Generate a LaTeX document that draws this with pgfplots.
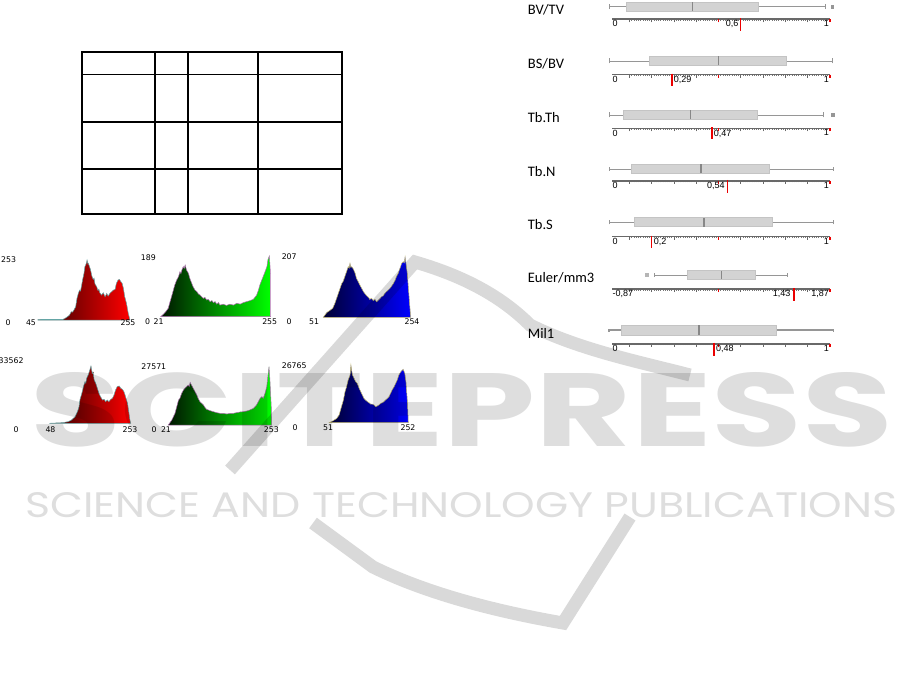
\documentclass[border=0pt]{standalone}
\usepackage{pgfplots}
\pgfplotsset{compat=1.18}
\usepgfplotslibrary{statistics}
\usepackage{graphicx}
\usepackage{fontspec}
\setmainfont{DejaVu Sans}
\newfontfamily\lblfont{Carlito}
\newfontfamily\rulfont{Liberation Sans}
\newfontfamily\wmfont{Poppins}

\definecolor{boxfill}{RGB}{211,211,211}
\definecolor{boxedge}{RGB}{196,196,196}
\definecolor{whisk}{RGB}{150,150,150}
\definecolor{med}{RGB}{135,135,135}
\definecolor{rul}{RGB}{105,105,105}
\definecolor{minortick}{RGB}{120,120,120}
\definecolor{valred}{RGB}{235,0,0}
\definecolor{redout}{RGB}{100,165,165}
\definecolor{greenout}{RGB}{175,110,175}
\definecolor{blueout}{RGB}{190,180,110}

\pgfplotsset{
  hist/.style={hide axis, scale only axis, anchor=south west, ymin=0,
    enlargelimits=false, clip=false},
  ruler/.style={scale only axis, anchor=south west, width=217.7pt, height=20pt,
    xmin=0.0216, xmax=1, ymin=0, ymax=20, enlargelimits=false, clip=false,
    axis x line*=bottom, axis y line=none, ytick=\empty,
    x axis line style={draw=rul, line width=1.6pt},
    xtick={0.1,0.2,0.3,0.4,0.5,0.6,0.7,0.8,0.9,1},
    xticklabels={}, minor x tick num=9, tick align=outside,
    major tick length=3pt, minor tick length=1.5pt,
    every major tick/.style={draw=rul, line width=0.8pt},
    every minor tick/.style={draw=minortick, line width=0.5pt},
    boxplot/draw direction=x,
    boxplot/every box/.style={fill=boxfill, draw=boxedge, line width=0.8pt},
    boxplot/every median/.style={draw=med, line width=1pt},
    boxplot/every whisker/.style={draw=whisk, line width=0.9pt}},
  redmark/.style={color=valred, draw=valred, line width=1.6pt, mark=none, forget plot},
  outlier/.style={only marks, mark=square*, mark size=1.3pt, color=whisk, forget plot},
  thickmedian/.style={boxplot/every median/.style={draw=med, line width=1.8pt}}
}

\newcommand{\hl}[1]{{\fontsize{7.8}{9}\selectfont #1}}
\newcommand{\rl}[1]{{\rulfont\fontsize{9}{10}\selectfont #1}}
\newcommand{\rowname}[1]{{\lblfont\fontsize{14.5}{16}\selectfont #1}}

\begin{document}
\begin{tikzpicture}[x=1pt,y=1pt]
\path[use as bounding box] (0,0) rectangle (914,-690);

% ---- empty table grid ----
\draw[line width=2pt] (81.7,-52.3) rectangle (342,-214.3);
\foreach \xx in {155,187.7,258} \draw[line width=2pt] (\xx,-52.3) -- (\xx,-214.3);
\draw[line width=1pt] (81.7,-75) -- (342,-75);
\foreach \yy in {121.7,168.7} \draw[line width=2pt] (81.7,-\yy) -- (342,-\yy);

% ---- histograms, top row ----
\begin{axis}[hist, at={(38pt,-320pt)}, width=92pt, height=60pt, xmin=45, xmax=255, ymax=253]
\addplot[draw=redout, line width=0.5pt, left color={rgb,255:red,45;green,0;blue,0}, right color={rgb,255:red,255;green,0;blue,0}]
coordinates {(45,2)(102,3)(106,6)(110,11)(114,16)(117,21)(121,35)(124,33)(127,42)(131,56)(134,91)(137,112)(140,126)(142,122)(144,140)(147,171)(150,197)(152,225)(154,232)(156,244)(157,253)(159,236)(160,239)(162,228)(165,211)(168,185)(171,171)(173,176)(175,152)(179,140)(182,124)(184,130)(186,115)(190,105)(194,115)(198,98)(202,112)(205,101)(209,112)(213,119)(217,126)(221,129)(224,155)(228,169)(231,171)(234,162)(237,155)(240,133)(243,98)(247,70)(251,28)(255,0)} \closedcycle;
\end{axis}
\begin{axis}[hist, at={(160.7pt,-316.7pt)}, width=110pt, height=60.7pt, xmin=21, xmax=255, ymax=189]
\addplot[draw=greenout, line width=0.5pt, left color={rgb,255:red,0;green,21;blue,0}, right color={rgb,255:red,0;green,255;blue,0}]
coordinates {(21,0)(27,8)(32,16)(37,26)(41,47)(44,62)(48,83)(51,99)(55,114)(59,125)(62,140)(64,134)(66,145)(69,156)(71,150)(73,161)(76,145)(80,135)(83,119)(87,104)(90,93)(94,83)(98,78)(101,71)(105,67)(108,62)(112,57)(115,60)(119,52)(122,54)(126,47)(130,50)(133,44)(137,47)(140,39)(144,44)(147,36)(154,39)(161,35)(168,39)(176,36)(183,42)(190,39)(197,44)(204,47)(211,50)(218,54)(225,67)(229,83)(232,99)(236,114)(239,125)(243,140)(247,156)(249,177)(252,189)(254,150)(255,125)} \closedcycle;
\end{axis}
\begin{axis}[hist, at={(323.3pt,-317.3pt)}, width=87.4pt, height=60.6pt, xmin=51, xmax=254, ymax=207]
\addplot[draw=blueout, line width=0.5pt, left color={rgb,255:red,0;green,0;blue,51}, right color={rgb,255:red,0;green,0;blue,255}]
coordinates {(51,0)(55,8)(59,16)(66,23)(73,31)(78,48)(82,65)(86,82)(90,99)(94,116)(97,122)(101,139)(105,156)(109,173)(111,168)(113,184)(115,170)(117,173)(121,164)(125,150)(128,133)(132,122)(136,110)(140,99)(144,88)(148,80)(152,73)(156,68)(159,61)(163,65)(167,57)(171,61)(175,53)(179,59)(183,65)(187,71)(190,73)(194,82)(198,88)(202,93)(206,99)(210,107)(214,116)(218,127)(221,139)(225,150)(229,167)(233,184)(237,190)(239,186)(241,207)(243,184)(246,150)(249,93)(252,36)(254,0)} \closedcycle;
\end{axis}

% ---- histograms, bottom row ----
\begin{axis}[hist, at={(49.3pt,-423.3pt)}, width=81.4pt, height=57.3pt, xmin=48, xmax=253, ymax=33562]
\addplot[draw=redout, line width=0.5pt, left color={rgb,255:red,48;green,0;blue,0}, right color={rgb,255:red,253;green,0;blue,0}]
coordinates {(48,0)(83,390)(96,976)(104,1951)(113,3902)(119,6829)(123,9756)(125,13659)(130,17561)(134,21463)(138,24390)(140,23500)(142,26341)(146,28292)(150,31220)(153,33562)(156,29268)(158,30100)(161,25366)(165,23415)(169,20488)(173,17561)(177,15610)(182,13659)(186,14049)(190,12683)(194,13659)(198,12683)(203,14049)(207,14634)(211,16585)(215,19512)(219,21463)(224,21854)(228,20488)(232,19902)(236,18537)(240,15610)(245,11707)(248,6829)(251,1951)(253,0)} \closedcycle;
\end{axis}
\begin{axis}[hist, at={(168.3pt,-425pt)}, width=103.4pt, height=58.3pt, xmin=21, xmax=253, ymax=27571]
\addplot[draw=greenout, line width=0.5pt, left color={rgb,255:red,0;green,21;blue,0}, right color={rgb,255:red,0;green,253;blue,0}]
coordinates {(21,0)(29,2363)(36,5513)(40,8663)(44,11813)(47,12600)(51,14963)(55,16538)(58,17325)(62,18113)(66,18900)(68,18200)(70,20160)(73,18900)(77,17325)(81,15750)(85,14175)(88,12600)(92,11025)(96,10238)(100,9450)(103,8348)(107,7403)(115,6773)(122,6300)(130,5828)(137,5513)(145,5513)(152,5198)(160,5513)(167,5513)(174,5828)(182,6143)(189,6300)(197,6615)(204,7088)(212,7875)(219,9450)(227,12600)(231,13388)(234,12600)(238,14963)(242,18113)(245,24413)(247,27571)(249,21263)(252,8663)(253,0)} \closedcycle;
\end{axis}
\begin{axis}[hist, at={(329.3pt,-422.7pt)}, width=79pt, height=57.7pt, xmin=51, xmax=252, ymax=26765]
\addplot[draw=blueout, line width=0.5pt, left color={rgb,255:red,0;green,0;blue,51}, right color={rgb,255:red,0;green,0;blue,252}]
coordinates {(51,0)(61,928)(70,2011)(76,3558)(82,7426)(87,10520)(91,14387)(95,16708)(99,19802)(104,22122)(106,26765)(108,24000)(110,22122)(114,20575)(118,19028)(122,18255)(127,15934)(131,14387)(135,12840)(139,11293)(143,10520)(148,9746)(152,9282)(156,8663)(160,8663)(165,8199)(169,7426)(173,7735)(177,8199)(182,8973)(186,9282)(190,9746)(194,10520)(199,11293)(203,12067)(207,13614)(211,15161)(216,16708)(220,18255)(224,19802)(228,22122)(233,23669)(237,24443)(239,24752)(243,22896)(246,19028)(250,8973)(252,0)} \closedcycle;
\end{axis}

% ---- histogram scale labels ----
\node[anchor=west, inner sep=0] at (1,-260) {\hl{253}};
\node at (8,-323) {\hl{0}};
\node at (31,-323) {\hl{45}};
\node at (128,-323) {\hl{255}};
\node at (148.3,-257.3) {\hl{189}};
\node at (147.5,-321.7) {\hl{0}};
\node at (158.7,-321.7) {\hl{21}};
\node at (269.7,-321.7) {\hl{255}};
\node at (289.2,-257) {\hl{207}};
\node at (289,-321.7) {\hl{0}};
\node at (314,-321.7) {\hl{51}};
\node at (412,-321.7) {\hl{254}};
\node[anchor=west, inner sep=0] at (-1.5,-361) {\hl{33562}};
\node at (16,-430) {\hl{0}};
\node at (50.5,-430) {\hl{48}};
\node at (130,-430) {\hl{253}};
\node at (153.8,-366.7) {\hl{27571}};
\node at (154,-429.3) {\hl{0}};
\node at (166,-429.3) {\hl{21}};
\node at (271.3,-429.3) {\hl{253}};
\node at (294.2,-365.7) {\hl{26765}};
\node at (295,-427.3) {\hl{0}};
\node at (328,-427.3) {\hl{51}};
\node at (408,-427.3) {\hl{252}};

% ---- box plots with scale rulers ----
% BV/TV
\begin{axis}[ruler, at={(612pt,-19.3pt)}]
\addplot[redmark] coordinates {(0.6,1) (0.6,-12)};
\addplot[draw=whisk, boxplot prepared={draw position=12.6, box extend=9, whisker extend=5,
  lower whisker=0.009, lower quartile=0.085, median=0.384, upper quartile=0.681, upper whisker=0.979}] coordinates {};
\addplot[outlier] coordinates {(1.012,12.6)};
\addplot[redmark] coordinates {(0.5,0) (0.5,-3)};
\addplot[redmark] coordinates {(1,0) (1,-3)};
\node[anchor=north west, inner sep=0.5pt] at (axis cs:0.0216,-0.6) {\rl{0}};
\node[anchor=north east, inner sep=0.5pt] at (axis cs:1,-0.6) {\rl{1}};
\node[anchor=north east, inner sep=0.5pt, xshift=-1.5pt] at (axis cs:0.6,-0.6) {\rl{0,6}};
\end{axis}
% BS/BV
\begin{axis}[ruler, at={(612pt,-74.7pt)}]
\addplot[redmark] coordinates {(0.29,1) (0.29,-11)};
\addplot[draw=whisk, boxplot prepared={draw position=13.7, box extend=9, whisker extend=5,
  lower whisker=0.009, lower quartile=0.189, median=0.499, upper quartile=0.807, upper whisker=1.012}] coordinates {};
\addplot[redmark] coordinates {(0.5,0) (0.5,-3)};
\addplot[redmark] coordinates {(1,0) (1,-3)};
\node[anchor=north west, inner sep=0.5pt] at (axis cs:0.0216,-0.6) {\rl{0}};
\node[anchor=north east, inner sep=0.5pt] at (axis cs:1,-0.6) {\rl{1}};
\node[anchor=north west, inner sep=0.5pt, xshift=1.5pt] at (axis cs:0.29,-0.6) {\rl{0,29}};
\end{axis}
% Tb.Th
\begin{axis}[ruler, at={(612pt,-128.5pt)}]
\addplot[redmark] coordinates {(0.47,1) (0.47,-11)};
\addplot[draw=whisk, boxplot prepared={draw position=13.5, box extend=9, whisker extend=5,
  lower whisker=0.009, lower quartile=0.072, median=0.374, upper quartile=0.675, upper whisker=0.974}] coordinates {};
\addplot[outlier] coordinates {(1.013,13.5)};
\addplot[redmark] coordinates {(0.5,0) (0.5,-3)};
\addplot[redmark] coordinates {(1,0) (1,-3)};
\node[anchor=north west, inner sep=0.5pt] at (axis cs:0.0216,-0.6) {\rl{0}};
\node[anchor=north east, inner sep=0.5pt] at (axis cs:1,-0.6) {\rl{1}};
\node[anchor=north west, inner sep=0.5pt, xshift=1.5pt] at (axis cs:0.47,-0.6) {\rl{0,47}};
\end{axis}
% Tb.N
\begin{axis}[ruler, at={(612pt,-181pt)}]
\addplot[redmark] coordinates {(0.54,1) (0.54,-12)};
\addplot[draw=whisk, thickmedian, boxplot prepared={draw position=12, box extend=9, whisker extend=4,
  lower whisker=0.009, lower quartile=0.107, median=0.422, upper quartile=0.729, upper whisker=1.016}] coordinates {};
\addplot[redmark] coordinates {(0.5,0) (0.5,-3)};
\addplot[redmark] coordinates {(1,0) (1,-3)};
\node[anchor=north west, inner sep=0.5pt] at (axis cs:0.0216,-0.6) {\rl{0}};
\node[anchor=north east, inner sep=0.5pt] at (axis cs:1,-0.6) {\rl{1}};
\node[anchor=north east, inner sep=0.5pt, xshift=-2pt] at (axis cs:0.54,-0.6) {\rl{0,54}};
\end{axis}
% Tb.S
\begin{axis}[ruler, at={(612pt,-236.7pt)}]
\addplot[redmark] coordinates {(0.2,1) (0.2,-11)};
\addplot[draw=whisk, thickmedian, boxplot prepared={draw position=14.4, box extend=9, whisker extend=4,
  lower whisker=0.009, lower quartile=0.122, median=0.434, upper quartile=0.744, upper whisker=1.016}] coordinates {};
\addplot[redmark] coordinates {(0.5,0) (0.5,-3)};
\addplot[redmark] coordinates {(1,0) (1,-3)};
\node[anchor=north west, inner sep=0.5pt] at (axis cs:0.0216,-0.6) {\rl{0}};
\node[anchor=north east, inner sep=0.5pt] at (axis cs:1,-0.6) {\rl{1}};
\node[anchor=north west, inner sep=0.5pt, xshift=1.5pt] at (axis cs:0.2,-0.6) {\rl{0,2}};
\end{axis}
% Euler/mm3
\begin{axis}[ruler, at={(612pt,-289pt)}, xmin=-0.811, xmax=1.87,
  xtick={-0.596,-0.322,-0.048,0.226,0.5,0.774,1.048,1.322,1.596,1.87}]
\addplot[redmark] coordinates {(1.43,1) (1.43,-12)};
\addplot[draw=whisk, boxplot prepared={draw position=14, box extend=8.5, whisker extend=4,
  lower whisker=-0.289, lower quartile=0.116, median=0.541, upper quartile=0.949, upper whisker=1.347}] coordinates {};
\addplot[outlier, color=whisk!70] coordinates {(-0.385,14)};
\addplot[redmark] coordinates {(0.5,0) (0.5,-3)};
\addplot[redmark] coordinates {(1.87,0) (1.87,-3)};
\node[anchor=north west, inner sep=0.5pt] at (axis cs:-0.811,-0.6) {\rl{-0,87}};
\node[anchor=north east, inner sep=0.5pt] at (axis cs:1.87,-0.6) {\rl{1,87}};
\node[anchor=north east, inner sep=0.5pt, xshift=-3pt] at (axis cs:1.43,-0.6) {\rl{1,43}};
\end{axis}
% Mil1
\begin{axis}[ruler, at={(612pt,-343.7pt)}]
\addplot[redmark] coordinates {(0.48,1) (0.48,-12)};
\addplot[draw=whisk, thickmedian, boxplot/every whisker/.style={draw=whisk, line width=1.5pt},
  boxplot prepared={draw position=13.5, box extend=9.6, whisker extend=3,
  lower whisker=0.009, lower quartile=0.062, median=0.413, upper quartile=0.762, upper whisker=1.016}] coordinates {};
\addplot[redmark] coordinates {(0.5,0) (0.5,-3)};
\addplot[redmark] coordinates {(1,0) (1,-3)};
\node[anchor=north west, inner sep=0.5pt] at (axis cs:0.0216,-0.6) {\rl{0}};
\node[anchor=north east, inner sep=0.5pt] at (axis cs:1,-0.6) {\rl{1}};
\node[anchor=north west, inner sep=0.5pt, xshift=1.5pt] at (axis cs:0.48,-0.6) {\rl{0,48}};
\end{axis}

% ---- row names ----
\begin{scope}[every node/.style={anchor=west, inner sep=0, text=black}]
\node at (527.7,-9.7) {\rowname{BV/TV}};
\node at (527.7,-64) {\rowname{BS/BV}};
\node at (527.7,-118) {\rowname{Tb.Th}};
\node at (527.7,-172) {\rowname{Tb.N}};
\node at (527.7,-225) {\rowname{Tb.S}};
\node at (527.7,-278) {\rowname{Euler/mm3}};
\node at (527.7,-333) {\rowname{Mil1}};
\end{scope}

% ---- publisher watermark ----
\begin{scope}[draw=black, opacity=0.15, line width=13pt, line cap=butt]
\draw (230,-470) -- (415,-262) .. controls (470,-278) and (505,-300) .. (530,-325)
      .. controls (580,-350) and (640,-362) .. (690,-375);
\draw (313,-523) -- (373,-567) .. controls (430,-595) and (500,-612) .. (563,-623) -- (630,-517);
\end{scope}
\node[anchor=south west, inner sep=0, opacity=0.13] at (30,-447) {\resizebox{863pt}{74pt}{\wmfont\bfseries SCITEPRESS}};
\node[anchor=south west, inner sep=0, opacity=0.13] at (25,-518) {\resizebox{872pt}{25pt}{\wmfont SCIENCE AND TECHNOLOGY PUBLICATIONS}};
\end{tikzpicture}
\end{document}
